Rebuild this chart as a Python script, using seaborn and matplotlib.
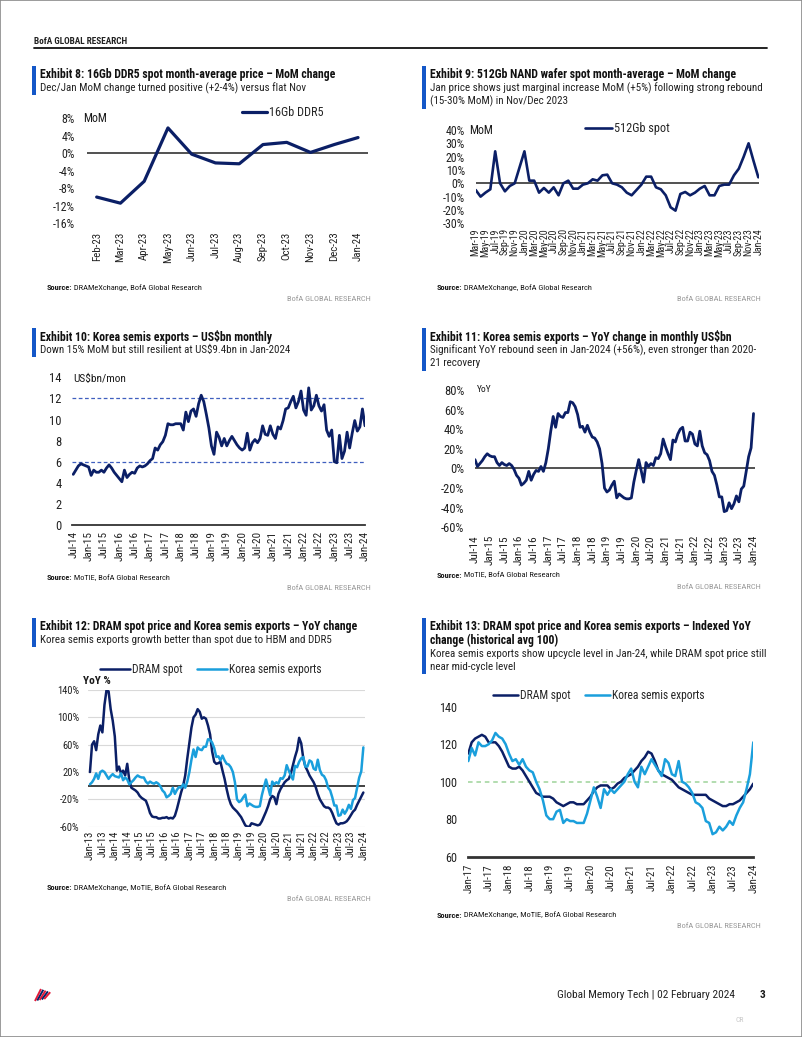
import numpy as np
import matplotlib
matplotlib.use("Agg")
import matplotlib.pyplot as plt
import seaborn as sns
from matplotlib import font_manager
from matplotlib.lines import Line2D
from matplotlib.patches import Rectangle
from matplotlib.text import Annotation

W, H = 802, 1037
NAVY = "#0b1f66"
SKY = "#1a9fdc"
BAR = "#1457c8"
INK = "#1a1a1a"

# ---- Exhibit 8: 16Gb DDR5 MoM (Feb-23 .. Jan-24)
ddr5_labels = ["Feb-23", "Mar-23", "Apr-23", "May-23", "Jun-23", "Jul-23",
               "Aug-23", "Sep-23", "Oct-23", "Nov-23", "Dec-23", "Jan-24"]
ddr5_mom = [-10.0, -11.4, -6.4, 5.8, -0.2, -2.2, -2.4, 2.0, 2.5, 0.2, 2.0, 3.6]

# ---- Exhibit 9: 512Gb NAND wafer MoM (Mar-19 .. Jan-24)
nand_labels = ("Mar-19 May-19 Jul-19 Sep-19 Nov-19 Jan-20 Mar-20 May-20 Jul-20 Sep-20 "
               "Nov-20 Jan-21 Mar-21 May-21 Jul-21 Sep-21 Nov-21 Jan-22 Mar-22 May-22 "
               "Jul-22 Sep-22 Nov-22 Jan-23 Mar-23 May-23 Jul-23 Sep-23 Nov-23 Jan-24").split()
nand_mom = [-5, -10, -7, -4.5, 24, 0, -6, -2, 0, 12,
            24, 2, 2, -7, -3.5, -7, -3, -9, 0, 2,
            -4, -4, -1, 0, 3, 2, 6, 6.5, 0, -1,
            -3, -7, -9, -5, -1, 5, 5, -3, -4.5, -9,
            -18, -20.5, -8, -6.5, -9, -7, -4, -2, -9, -9,
            -2, -1, -1, 6, 11, 20, 30, 17, 4.5]

# ---- Exhibit 10/11: Korea semis exports (Jul-14 .. Jan-24)
kr_labels = ("Jul-14 Jan-15 Jul-15 Jan-16 Jul-16 Jan-17 Jul-17 Jan-18 Jul-18 Jan-19 "
             "Jul-19 Jan-20 Jul-20 Jan-21 Jul-21 Jan-22 Jul-22 Jan-23 Jul-23 Jan-24").split()
kr_usd = [4.8, 5.2, 5.6, 5.8, 5.7, 5.6, 5.5, 4.7, 5.2, 5.0,
          5.0, 5.2, 5.0, 5.4, 5.7, 5.4, 5.0, 4.7, 4.4, 4.1,
          5.2, 4.5, 4.8, 5.0, 4.9, 5.4, 5.6, 5.5, 5.6, 5.8,
          6.1, 6.3, 7.3, 7.1, 7.6, 7.9, 8.5, 9.6, 9.5, 9.5,
          9.6, 9.6, 9.6, 9.0, 10.7, 9.8, 10.8, 11.0, 10.3, 11.5,
          12.3, 11.7, 10.5, 9.2, 7.5, 6.7, 8.8, 8.3, 7.5, 8.2,
          7.5, 8.0, 8.4, 8.0, 7.6, 7.3, 7.1, 7.3, 8.7, 7.1,
          7.8, 8.1, 7.8, 8.2, 9.4, 8.6, 8.5, 9.4, 8.6, 8.2,
          9.3, 9.1, 9.9, 11.0, 11.1, 11.7, 12.2, 11.1, 11.7, 12.7,
          10.9, 10.4, 13.0, 10.9, 11.3, 12.3, 11.3, 10.8, 11.4, 9.0,
          8.4, 9.0, 6.0, 5.9, 8.5, 6.3, 7.0, 8.8, 7.3, 8.7,
          9.9, 8.9, 9.3, 11.0, 9.4]
kr_yoy = [9, 2, 5, 8, 12, 15, 13, 12, 12, 6,
          3, 6, 4, 3, 5, 3, -1, -7, -10, -17,
          -15, -12, -3, -12, -6, -2, -3, 2, -3, 6,
          20, 38, 53, 42, 56, 53, 52, 57, 57, 68,
          67, 63, 55, 42, 43, 37, 44, 37, 32, 31,
          27, 20, 5, -20, -24, -22, -17, -13, -30, -26,
          -28, -30, -31, -31, -30, -14, -2, 9, -2, -14,
          6, 2, 5, 3, 11, 10, 15, 30, 22, 15,
          9, 29, 27, 35, 40, 42, 28, 28, 37, 35,
          25, 23, 38, 23, 16, 14, 8, -3, -7, -17,
          -29, -29, -44, -43, -35, -41, -36, -28, -34, -21,
          -18, -3, 12, 21, 56]

# ---- Exhibit 12: YoY, Jan-13 .. Jan-24
yoy_labels = ("Jan-13 Jul-13 Jan-14 Jul-14 Jan-15 Jul-15 Jan-16 Jul-16 Jan-17 Jul-17 "
              "Jan-18 Jul-18 Jan-19 Jul-19 Jan-20 Jul-20 Jan-21 Jul-21 Jan-22 Jul-22 "
              "Jan-23 Jul-23 Jan-24").split()
dram_yoy = [20, 60, 65, 52, 75, 88, 78, 118, 140, 138,
            112, 95, 72, 22, 28, 18, 22, 15, 32, 8,
            -3, -5, -7, -10, -15, -18, -20, -22, -30, -40,
            -45, -46, -46, -48, -48, -47, -47, -46, -48, -47,
            -48, -44, -34, -22, -10, 0, 15, 40, 62, 85,
            100, 104, 112, 108, 98, 100, 98, 88, 75, 50,
            35, 32, 33, 35, 22, 10, -5, -18, -27, -32,
            -35, -38, -42, -46, -52, -58, -60, -60, -55, -56,
            -57, -58, -57, -52, -45, -38, -30, -20, -15, -17,
            -27, -12, -5, 0, 5, 8, 10, 18, 30, 42,
            52, 70, 62, 40, 28, 22, 15, 10, 5, -2,
            -12, -20, -25, -30, -32, -32, -34, -40, -48, -55,
            -57, -55, -55, -54, -52, -48, -43, -38, -35, -28,
            -22, -16, -10]
kr_yoy_early = [2, 5, 10, 18, 10, 20, 22, 20, 15, 10,
                14, 17, 14, 13, 12, 18, 8, 12]
kr_yoy_long = kr_yoy_early + kr_yoy

# ---- Exhibit 13: indexed YoY (historical avg 100), Jan-17 .. Jan-24
idx_labels = ("Jan-17 Jul-17 Jan-18 Jul-18 Jan-19 Jul-19 Jan-20 Jul-20 "
              "Jan-21 Jul-21 Jan-22 Jul-22 Jan-23 Jul-23 Jan-24").split()
dram_idx = [115, 121, 123, 124, 125, 124, 121, 121, 121, 119,
            116, 112, 108, 107, 107, 108, 106, 103, 100, 97,
            94, 93, 92, 92, 92, 91, 89, 88, 87, 88,
            89, 89, 88, 88, 88, 90, 92, 95, 97, 98,
            98, 98, 96, 97, 99, 100, 102, 103, 104, 106,
            108, 111, 113, 116, 115, 111, 106, 104, 103, 102,
            101, 99, 97, 96, 95, 94, 93, 93, 93, 93,
            93, 91, 90, 89, 88, 87, 87, 88, 88, 89,
            90, 92, 94, 96, 99]
kr_idx = [111, 118, 114, 121, 119, 119, 120, 122, 126, 124,
          123, 120, 115, 111, 112, 109, 112, 108, 106, 105,
          100, 96, 90, 82, 80, 80, 84, 85, 78, 80,
          79, 79, 78, 78, 78, 83, 90, 97, 92, 86,
          96, 93, 96, 94, 96, 98, 100, 104, 107, 100,
          97, 108, 104, 108, 112, 109, 106, 103, 112, 110,
          104, 103, 111, 100, 99, 97, 94, 89, 88, 86,
          79, 78, 72, 73, 76, 74, 76, 79, 77, 82,
          86, 89, 96, 104, 121]

sns.set_style("white")


def pick_font():
    fonts = font_manager.fontManager.ttflist
    names = {f.name for f in fonts}
    for n in ["Roboto Condensed", "Liberation Sans Narrow", "Open Sans Condensed"]:
        if n in names:
            return n, "normal", 1.0
    for f in fonts:
        if f.name in ("DejaVu Sans", "Noto Sans", "Open Sans", "Roboto") and \
                f.stretch in ("condensed", "semi-condensed"):
            return f.name, f.stretch, 1.0
    return "Liberation Sans", "normal", 0.87


FAMILY, STRETCH, K = pick_font()
plt.rcParams["font.family"] = [FAMILY, "DejaVu Sans"]
plt.rcParams["font.stretch"] = STRETCH

fig = plt.figure(figsize=(W / 100, H / 100), dpi=100)


def px_ax(l, t, r, b):
    ax = fig.add_axes([l / W, 1 - b / H, (r - l) / W, (b - t) / H])
    ax.patch.set_alpha(0)
    return ax


def ftext(x, y, s, size, **kw):
    kw.setdefault("va", "center")
    kw.setdefault("color", INK)
    return fig.text(x / W, 1 - y / H, s, fontsize=size * K, **kw)


def exhibit_head(x, top, title_lines, sub_lines):
    n = len(title_lines) + len(sub_lines)
    fig.add_artist(Rectangle((x / W, 1 - (top + 13.5 * n + 2) / H), 4 / W, (13.5 * n + 2) / H,
                             transform=fig.transFigure, color=BAR, lw=0))
    y = top + 8.5
    for t in title_lines:
        ftext(x + 8, y, t, 8.5, fontweight="bold", color="#111111")
        y += 13.8
    for s in sub_lines:
        ftext(x + 8, y, s, 7.9, color="#222222")
        y += 12.8


def source(x, y, rest, right, y2):
    t1 = ftext(x, y, "Source:", 6, fontweight="bold")
    fig.add_artist(Annotation(" " + rest, xy=(1, 0.5), xycoords=t1, va="center",
                              fontsize=6 * K, color=INK))
    ftext(right, y2, "BofA GLOBAL RESEARCH", 6, color="#9a9a9a", ha="right")


def style(ax, yt, yl, ysize, ypad, xt, xl, xsize, xpad):
    ax.set_yticks(yt, labels=yl)
    ax.set_xticks(xt, labels=xl, rotation=90)
    ax.tick_params(axis="y", length=0, labelsize=ysize * K, pad=ypad, colors="#222222")
    ax.tick_params(axis="x", length=0, labelsize=xsize * K, pad=xpad, colors="#222222")
    for s in ax.spines.values():
        s.set_visible(False)
    ax.set_xlabel("")
    ax.set_ylabel("")


def legend(ax, x, y, hl, ncol=1, cs=1.2, size=8.8):
    ax.legend(loc="center left", bbox_to_anchor=(x / W, 1 - y / H), bbox_transform=fig.transFigure,
              frameon=False, borderpad=0, borderaxespad=0, handlelength=hl / K, handletextpad=0.15,
              ncol=ncol, columnspacing=cs, fontsize=size * K)


# page header / footer
ftext(34, 41, "BofA GLOBAL RESEARCH", 6.7, fontweight="bold", color="#222222")
fig.add_artist(Line2D([34 / W, 767 / W], [1 - 48 / H, 1 - 48 / H], color="#111111", lw=1.3))
fig.add_artist(Rectangle((0, 0), 1, 1, fill=False, edgecolor="#8a8a8a", lw=1.2,
                         transform=fig.transFigure))
ftext(735, 995, "Global Memory Tech | 02 February 2024", 8.2, ha="right", color="#222222")
ftext(762, 995, "3", 8.2, fontweight="bold", ha="center")
ftext(736, 1020, "CR", 5.5, color="#c8c8c8")
for k, c in enumerate(["#e31837", "#012169", "#e31837", "#012169", "#e31837"]):
    x0 = 35 + k * 2.3
    fig.add_artist(Line2D([x0 / W, (x0 + 6) / W], [1 - (1001 - k * 0.5) / H, 1 - (989 + k * 0.8) / H],
                          color=c, lw=1.4, solid_capstyle="butt"))

# ---------------- Exhibit 8
exhibit_head(32, 66, ["Exhibit 8: 16Gb DDR5 spot month-average price \u2013 MoM change"],
             ["Dec/Jan MoM change turned positive (+2-4%) versus flat Nov"])
ax = px_ax(86.7, 118.3, 368, 223.3)
sns.lineplot(x=np.arange(len(ddr5_mom)), y=ddr5_mom, ax=ax, color=NAVY, lw=2.3, label="16Gb DDR5")
ax.axhline(0, color="#333333", lw=1.2, zorder=1)
ax.set_ylim(-16, 8)
ax.set_xlim(-0.42, 11.42)
style(ax, list(range(-16, 9, 4)), [f"{v}%" for v in range(-16, 9, 4)], 8.6, 8.4,
      range(len(ddr5_labels)), ddr5_labels, 7.8, 6)
legend(ax, 241.7, 113, 2.05)
ftext(83.3, 119, "MoM", 8.6)
source(47, 287.7, "DRAMeXchange, BofA Global Research", 370.7, 299.3)

# ---------------- Exhibit 9
exhibit_head(422, 66, ["Exhibit 9: 512Gb NAND wafer spot month-average \u2013 MoM change"],
             ["Jan price shows just marginal increase MoM (+5%) following strong rebound",
              "(15-30% MoM) in Nov/Dec 2023"])
ax = px_ax(475.7, 130, 759.3, 223.3)
sns.lineplot(x=np.arange(len(nand_mom)), y=nand_mom, ax=ax, color=NAVY, lw=1.9, label="512Gb spot")
ax.axhline(0, color="#333333", lw=1.2, zorder=1)
ax.set_ylim(-30, 40)
ax.set_xlim(0, 58.2)
style(ax, list(range(-30, 41, 10)), [f"{v}%" for v in range(-30, 41, 10)], 8.6, 7.7,
      range(0, len(nand_mom), 2), nand_labels, 7.2, 3.6)
legend(ax, 585, 128.3, 2.2)
ftext(469.5, 130, "MoM", 8.6)
source(437, 287.7, "DRAMeXchange, BofA Global Research", 760.7, 299.3)

# ---------------- Exhibit 10
exhibit_head(32, 328, ["Exhibit 10: Korea semis exports \u2013 US$bn monthly"],
             ["Down 15% MoM but still resilient at US$9.4bn in Jan-2024"])
ax = px_ax(71.7, 377.3, 365, 525)
for lvl in (6, 12):
    ax.axhline(lvl, color="#3f5fbf", lw=0.9, ls=(0, (3, 2)), zorder=1)
sns.lineplot(x=np.arange(len(kr_usd)), y=kr_usd, ax=ax, color=NAVY, lw=2.0)
ax.set_ylim(0, 14)
ax.set_xlim(-0.6, 114)
style(ax, list(range(0, 15, 2)), [str(v) for v in range(0, 15, 2)], 9, 7.2,
      range(0, len(kr_usd), 6), kr_labels, 8, 4.1)
ax.spines["bottom"].set_visible(True)
ax.spines["bottom"].set_color("#333333")
ax.spines["bottom"].set_linewidth(1.3)
ftext(73.3, 379.3, "US$bn/mon", 8.2)
source(47, 577.7, "MoTIE, BofA Global Research", 370.7, 588.3)

# ---------------- Exhibit 11
exhibit_head(422, 328, ["Exhibit 11: Korea semis exports \u2013 YoY change in monthly US$bn"],
             ["Significant YoY rebound seen in Jan-2024 (+56%), even stronger than 2020-",
              "21 recovery"])
ax = px_ax(475, 390, 755, 527.3)
sns.lineplot(x=np.arange(len(kr_yoy)), y=kr_yoy, ax=ax, color=NAVY, lw=2.0)
ax.axhline(0, color="#333333", lw=1.2, zorder=1)
ax.set_ylim(-60, 80)
ax.set_xlim(0, 114.6)
style(ax, list(range(-60, 81, 20)), [f"{v}%" for v in range(-60, 81, 20)], 9, 7.9,
      range(0, len(kr_yoy), 6), kr_labels, 8.2, 5.5)
ftext(476.7, 389.3, "YoY", 6.8)
source(437, 575, "MoTIE, BofA Global Research", 760.7, 586.7)

# ---------------- Exhibit 12
exhibit_head(32, 618, ["Exhibit 12: DRAM spot price and Korea semis exports \u2013 YoY change"],
             ["Korea semis exports growth better than spot due to HBM and DDR5"])
ax = px_ax(88.3, 690, 365, 826.7)
ax.set_axisbelow(True)
ax.grid(axis="y", color="#d9d9d9", lw=0.8)
sns.lineplot(x=np.arange(len(dram_yoy)), y=dram_yoy, ax=ax, color=NAVY, lw=1.8, label="DRAM spot")
sns.lineplot(x=np.arange(len(kr_yoy_long)), y=kr_yoy_long, ax=ax, color=SKY, lw=1.8,
             label="Korea semis exports")
ax.axhline(0, color="#333333", lw=1.3, zorder=1.5)
ax.set_ylim(-60, 140)
ax.set_xlim(-0.8, 132.8)
style(ax, list(range(-60, 141, 40)), [f"{v}%" for v in range(-60, 141, 40)], 7.6, 6.5,
      range(0, len(dram_yoy), 6), yoy_labels, 7.8, 2.9)
legend(ax, 100, 670, 2.6, ncol=2, cs=1.3, size=8.3)
ftext(82.7, 680.7, "YoY %", 8.2, fontweight="bold")
source(47, 887.3, "DRAMeXchange, MoTIE, BofA Global Research", 370.7, 899.3)

# ---------------- Exhibit 13
exhibit_head(422, 618, ["Exhibit 13: DRAM spot price and Korea semis exports \u2013 Indexed YoY",
                        "change (historical avg 100)"],
             ["Korea semis exports show upcycle level in Jan-24, while DRAM spot price still",
              "near mid-cycle level"])
ax = px_ax(468.3, 706.7, 753.3, 856.7)
ax.axhline(100, color="#9ed39a", lw=1.1, ls=(0, (3, 2.5)), zorder=1)
sns.lineplot(x=np.arange(len(dram_idx)), y=dram_idx, ax=ax, color=NAVY, lw=1.8, label="DRAM spot")
sns.lineplot(x=np.arange(len(kr_idx)), y=kr_idx, ax=ax, color=SKY, lw=1.8,
             label="Korea semis exports")
ax.set_ylim(60, 140)
ax.set_xlim(0, 84)
style(ax, list(range(60, 141, 20)), [str(v) for v in range(60, 141, 20)], 8.8, 7.9,
      range(0, len(dram_idx), 6), idx_labels, 7.8, 5.3)
ax.spines["bottom"].set_visible(True)
ax.spines["bottom"].set_color("#333333")
ax.spines["bottom"].set_linewidth(2.0)
legend(ax, 493, 696, 2.2, ncol=2, cs=1.2, size=8.3)
source(437, 915, "DRAMeXchange, MoTIE, BofA Global Research", 760.7, 926)

fig.savefig("out.png", dpi=100)
